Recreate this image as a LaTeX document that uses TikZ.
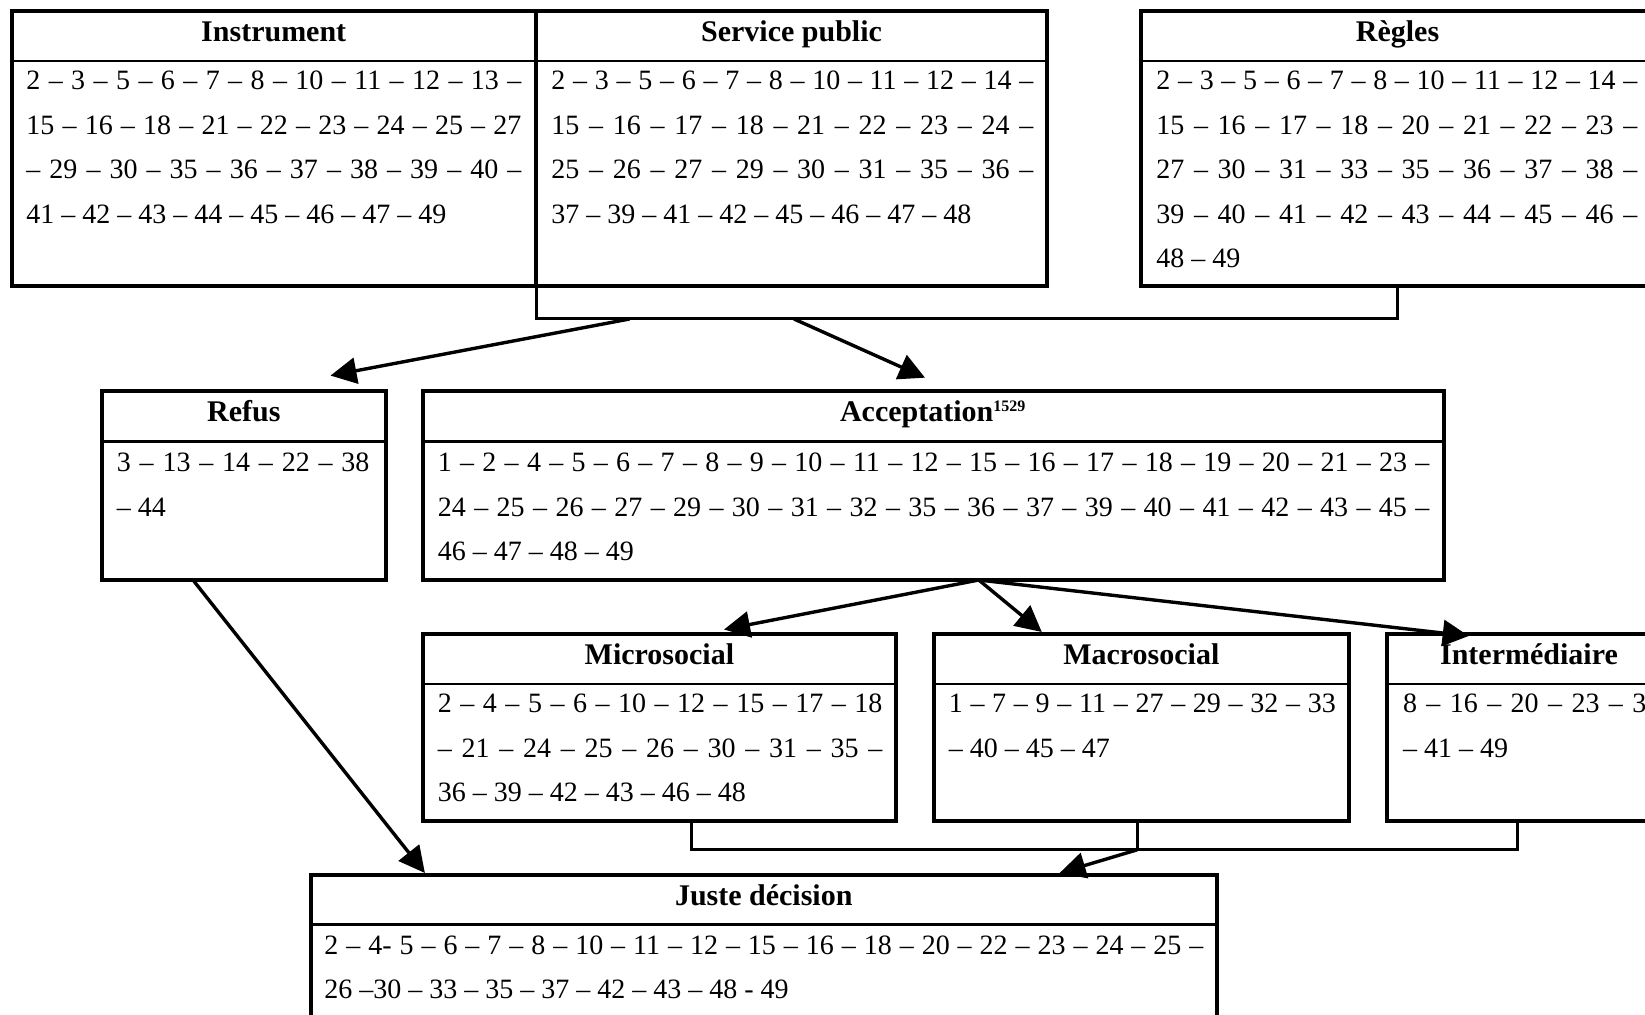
\documentclass[tikz,border=0pt]{standalone}
\usepackage{fontspec}
\setmainfont{Liberation Serif}
\usetikzlibrary{arrows.meta}

\tikzset{
  frame/.style={draw, line width=2pt, rectangle, inner sep=0pt, outer sep=0pt},
  headrule/.style={line width=1.2pt},
  head/.style={inner sep=0pt, anchor=base, font=\fontsize{15}{18}\selectfont\bfseries},
  nums/.style={inner sep=0pt, anchor=base west, font=\fontsize{14}{17}\selectfont},
  link/.style={line width=1.7pt, -{Triangle[length=13pt,width=13pt]}},
  bracket/.style={line width=1.5pt},
}

% box with a header band: name, x1, y1, x2, y2, y of the header rule
\newcommand\tablebox[6]{%
  \node[frame, minimum width={(#4-#2)*0.5pt}, minimum height={(#5-#3)*0.5pt}]
    (#1) at ({(#2+#4)/2},{(#3+#5)/2}) {};
  \draw[headrule] (#2,#6) -- (#4,#6);}
% justified line of numbers: name, left x, right x, baseline, text
\newcommand\numrow[5]{%
  \node[nums] (#1) at (#2,#4) {\makebox[\dimexpr(#3pt-#2pt)/2\relax][s]{#5}};}
% last (ragged) line: name, left x, baseline, text
\newcommand\lastrow[4]{\node[nums] (#1) at (#2,#3) {#4};}

\begin{document}
\begin{tikzpicture}[x=0.5pt,y=-0.5pt]
\fill[white] (0,0) rectangle (1645,1015);
\clip (0,0) rectangle (1645,1015);

% ---------- top row ----------
\tablebox{instr}{11.5}{11.5}{536}{286.5}{61}
\node[head] (h-instr) at (273.75,42) {Instrument};
\numrow{instr-1}{26}{521}{90}{2 – 3 – 5 – 6 – 7 – 8 – 10 – 11 – 12 – 13 –}
\numrow{instr-2}{26}{521}{134.5}{15 – 16 – 18 – 21 – 22 – 23 – 24 – 25 – 27}
\numrow{instr-3}{26}{521}{179}{– 29 – 30 – 35 – 36 – 37 – 38 – 39 – 40 –}
\lastrow{instr-4}{26}{223.5}{41 – 42 – 43 – 44 – 45 – 46 – 47 – 49}

\tablebox{serv}{536}{11.5}{1047}{286.5}{61}
\node[head] (h-serv) at (791.5,42) {Service public};
\numrow{serv-1}{551}{1033}{90}{2 – 3 – 5 – 6 – 7 – 8 – 10 – 11 – 12 – 14 –}
\numrow{serv-2}{551}{1033}{134.5}{15 – 16 – 17 – 18 – 21 – 22 – 23 – 24 –}
\numrow{serv-3}{551}{1033}{179}{25 – 26 – 27 – 29 – 30 – 31 – 35 – 36 –}
\lastrow{serv-4}{551}{223.5}{37 – 39 – 41 – 42 – 45 – 46 – 47 – 48}

\tablebox{regles}{1141}{11.5}{1654}{286.5}{61}
\node[head] (h-regles) at (1397.5,42) {Règles};
\numrow{regles-1}{1156}{1637}{90}{2 – 3 – 5 – 6 – 7 – 8 – 10 – 11 – 12 – 14 –}
\numrow{regles-2}{1156}{1637}{134.5}{15 – 16 – 17 – 18 – 20 – 21 – 22 – 23 –}
\numrow{regles-3}{1156}{1637}{179}{27 – 30 – 31 – 33 – 35 – 36 – 37 – 38 –}
\numrow{regles-4}{1156}{1637}{223.5}{39 – 40 – 41 – 42 – 43 – 44 – 45 – 46 –}
\lastrow{regles-5}{1156}{268}{48 – 49}

% bracket joining the three top boxes
\coordinate (top-l) at (536,319);
\coordinate (top-r) at (1397.5,319);
\draw[bracket] (serv.south west) -- (top-l) -- (top-r) -- (regles.south);

% ---------- second row ----------
\tablebox{refus}{101.8}{391.3}{386}{580}{441.7}
\node[head] (h-refus) at (243.9,421.8) {Refus};
\numrow{refus-1}{116.5}{369}{471.6}{3 – 13 – 14 – 22 – 38}
\lastrow{refus-2}{116.5}{516.2}{– 44}

\tablebox{accept}{422.8}{391.3}{1443.6}{580}{441.7}
\node[head] (h-accept) at (933.2,421.8) {Acceptation\textsuperscript{\fontsize{8}{9}\selectfont 1529}};
\numrow{accept-1}{437.5}{1429}{471.6}{1 – 2 – 4 – 5 – 6 – 7 – 8 – 9 – 10 – 11 – 12 – 15 – 16 – 17 – 18 – 19 – 20 – 21 – 23 –}
\numrow{accept-2}{437.5}{1429}{516.2}{24 – 25 – 26 – 27 – 29 – 30 – 31 – 32 – 35 – 36 – 37 – 39 – 40 – 41 – 42 – 43 – 45 –}
\lastrow{accept-3}{437.5}{560.7}{46 – 47 – 48 – 49}

% arrows leaving the top bracket
\coordinate (top-a) at (629.5,319);
\coordinate (top-b) at (794,319);
\coordinate (refus-in) at (330.5,375.6);
\coordinate (accept-in) at (925,377.7);
\draw[link] (top-a) -- (refus-in);
\draw[link] (top-b) -- (accept-in);

% ---------- third row ----------
\tablebox{micro}{422.8}{633.7}{896}{821.4}{684}
\node[head] (h-micro) at (659.4,664.2) {Microsocial};
\numrow{micro-1}{437.5}{882}{713}{2 – 4 – 5 – 6 – 10 – 12 – 15 – 17 – 18}
\numrow{micro-2}{437.5}{882}{757.5}{– 21 – 24 – 25 – 26 – 30 – 31 – 35 –}
\lastrow{micro-3}{437.5}{802}{36 – 39 – 42 – 43 – 46 – 48}

\tablebox{macro}{933.7}{633.7}{1349}{821.4}{684}
\node[head] (h-macro) at (1141.35,664.2) {Macrosocial};
\numrow{macro-1}{948.4}{1335.5}{713}{1 – 7 – 9 – 11 – 27 – 29 – 32 – 33}
\lastrow{macro-2}{948.4}{757.5}{– 40 – 45 – 47}

\tablebox{inter}{1387}{633.7}{1671}{821.4}{684}
\node[head] (h-inter) at (1529,664.2) {Intermédiaire};
\numrow{inter-1}{1402.6}{1660}{713}{8 – 16 – 20 – 23 – 37}
\lastrow{inter-2}{1402.6}{757.5}{– 41 – 49}

% arrows leaving the acceptation box
\coordinate (acc-out) at (978.8,580);
\coordinate (micro-in) at (724,629.5);
\coordinate (macro-in) at (1041.8,632);
\coordinate (inter-in) at (1468.7,636);
\draw[link] (acc-out) -- (micro-in);
\draw[link] (acc-out) -- (macro-in);
\draw[link] (acc-out) -- (inter-in);

% bracket joining the three middle boxes
\coordinate (micro-stub) at (691.4,821.4);
\coordinate (macro-stub) at (1137.2,821.4);
\coordinate (inter-stub) at (1517,821.4);
\coordinate (low-l) at (691.4,849.8);
\coordinate (low-m) at (1137.2,849.8);
\coordinate (low-r) at (1517,849.8);
\draw[bracket] (micro-stub) -- (low-l) -- (low-r) -- (inter-stub);
\draw[bracket] (macro-stub) -- (low-m);

% ---------- bottom box ----------
\tablebox{juste}{310.5}{875}{1217}{1040}{924.3}
\node[head] (h-juste) at (763.75,905.5) {Juste décision};
\numrow{juste-1}{324}{1203}{954}{2 – 4- 5 – 6 – 7 – 8 – 10 – 11 – 12 – 15 – 16 – 18 – 20 – 22 – 23 – 24 – 25 –}
\lastrow{juste-2}{324}{998.5}{26 –30 – 33 – 35 – 37 – 42 – 43 – 48 - 49}

\coordinate (refus-out) at (193,580);
\coordinate (juste-in-l) at (424.9,873);
\coordinate (juste-in-r) at (1059.6,873);
\draw[link] (refus-out) -- (juste-in-l);
\draw[link] (low-m) -- (juste-in-r);
\end{tikzpicture}
\end{document}
